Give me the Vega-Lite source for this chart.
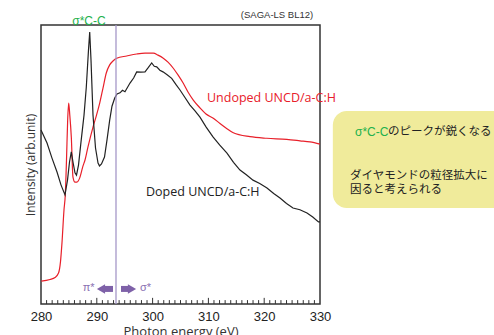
{
  "$schema": "https://vega.github.io/schema/vega-lite/v6.json",
  "width": 279,
  "height": 279,
  "autosize": {"type": "none"},
  "padding": {"left": 41, "top": 25, "right": 174, "bottom": 31},
  "background": "white",
  "config": {"view": {"stroke": "#333", "strokeWidth": 1.5}, "font": "Liberation Sans"},
  "datasets": {
    "doped": [
      {"energy": 280.00, "intensity": 62.4}, {"energy": 281.08, "intensity": 57.7}, {"energy": 281.97, "intensity": 52.3},
      {"energy": 282.87, "intensity": 47.3}, {"energy": 283.58, "intensity": 42.7}, {"energy": 284.30, "intensity": 39.1},
      {"energy": 284.75, "intensity": 44.4}, {"energy": 285.11, "intensity": 50.9}, {"energy": 285.43, "intensity": 54.5},
      {"energy": 285.73, "intensity": 50.9}, {"energy": 286.09, "intensity": 47.0}, {"energy": 286.36, "intensity": 46.2},
      {"energy": 286.72, "intensity": 49.8}, {"energy": 287.17, "intensity": 58.1}, {"energy": 287.71, "intensity": 67.7},
      {"energy": 288.12, "intensity": 77.8}, {"energy": 288.51, "intensity": 91.0}, {"energy": 288.73, "intensity": 97.5},
      {"energy": 288.96, "intensity": 87.5}, {"energy": 289.32, "intensity": 67.7}, {"energy": 289.77, "intensity": 55.9},
      {"energy": 290.22, "intensity": 50.5}, {"energy": 290.48, "intensity": 49.5}, {"energy": 290.84, "intensity": 50.2},
      {"energy": 291.38, "intensity": 52.7}, {"energy": 291.83, "intensity": 58.8}, {"energy": 292.31, "intensity": 65.9},
      {"energy": 292.72, "intensity": 70.9}, {"energy": 293.21, "intensity": 73.8}, {"energy": 293.62, "intensity": 75.3},
      {"energy": 294.16, "intensity": 75.7}, {"energy": 294.60, "intensity": 76.6}, {"energy": 295.05, "intensity": 76.1},
      {"energy": 295.95, "intensity": 79.2}, {"energy": 296.60, "intensity": 81.0}, {"energy": 297.15, "intensity": 83.2},
      {"energy": 297.90, "intensity": 83.1}, {"energy": 298.64, "intensity": 83.2}, {"energy": 299.18, "intensity": 84.6},
      {"energy": 299.84, "intensity": 86.4}, {"energy": 300.30, "intensity": 85.2}, {"energy": 300.74, "intensity": 85.0},
      {"energy": 301.30, "intensity": 83.8}, {"energy": 301.86, "intensity": 83.2}, {"energy": 302.60, "intensity": 82.2},
      {"energy": 303.42, "intensity": 80.9}, {"energy": 304.20, "intensity": 78.6}, {"energy": 304.91, "intensity": 76.7},
      {"energy": 305.80, "intensity": 74.0}, {"energy": 306.70, "intensity": 71.3}, {"energy": 307.60, "intensity": 69.2},
      {"energy": 308.49, "intensity": 67.0}, {"energy": 309.60, "intensity": 63.4}, {"energy": 310.82, "intensity": 59.9},
      {"energy": 312.00, "intensity": 57.0}, {"energy": 313.33, "intensity": 54.1}, {"energy": 314.50, "intensity": 50.8},
      {"energy": 315.66, "intensity": 48.0}, {"energy": 316.80, "intensity": 46.3}, {"energy": 317.99, "intensity": 44.4},
      {"energy": 319.20, "intensity": 43.2}, {"energy": 320.50, "intensity": 41.6}, {"energy": 321.70, "intensity": 39.6},
      {"energy": 322.83, "intensity": 38.0}, {"energy": 324.00, "intensity": 36.0}, {"energy": 325.16, "intensity": 34.4},
      {"energy": 326.40, "intensity": 33.8}, {"energy": 327.67, "intensity": 32.6}, {"energy": 328.70, "intensity": 31.2},
      {"energy": 329.73, "intensity": 29.4}, {"energy": 330.00, "intensity": 29.4}
    ],
    "undoped": [
      {"energy": 280.05, "intensity": 8.2}, {"energy": 281.61, "intensity": 8.8}, {"energy": 282.51, "intensity": 9.5},
      {"energy": 283.14, "intensity": 11.1}, {"energy": 283.49, "intensity": 15.1}, {"energy": 283.76, "intensity": 21.9},
      {"energy": 284.12, "intensity": 33.7}, {"energy": 284.35, "intensity": 39.1}, {"energy": 284.57, "intensity": 51.6},
      {"energy": 284.78, "intensity": 65.9}, {"energy": 284.96, "intensity": 72.0}, {"energy": 285.16, "intensity": 67.7},
      {"energy": 285.43, "intensity": 59.9}, {"energy": 285.73, "intensity": 45.5}, {"energy": 286.09, "intensity": 43.7},
      {"energy": 286.45, "intensity": 43.7}, {"energy": 286.94, "intensity": 45.2}, {"energy": 287.53, "intensity": 49.5},
      {"energy": 287.89, "intensity": 51.6}, {"energy": 288.42, "intensity": 56.3}, {"energy": 289.32, "intensity": 63.4},
      {"energy": 289.95, "intensity": 67.7}, {"energy": 290.52, "intensity": 72.0}, {"energy": 291.11, "intensity": 77.4},
      {"energy": 291.70, "intensity": 82.8}, {"energy": 292.31, "intensity": 85.7}, {"energy": 292.90, "intensity": 87.1},
      {"energy": 293.57, "intensity": 88.1}, {"energy": 295.36, "intensity": 88.9}, {"energy": 297.15, "intensity": 89.6},
      {"energy": 298.64, "intensity": 89.9}, {"energy": 300.13, "intensity": 89.9}, {"energy": 300.97, "intensity": 89.2},
      {"energy": 301.92, "intensity": 88.1}, {"energy": 302.76, "intensity": 86.7}, {"energy": 303.71, "intensity": 84.5},
      {"energy": 304.55, "intensity": 82.1}, {"energy": 305.50, "intensity": 79.1}, {"energy": 306.34, "intensity": 76.0},
      {"energy": 307.29, "intensity": 73.1}, {"energy": 308.49, "intensity": 70.3}, {"energy": 309.57, "intensity": 68.1},
      {"energy": 310.88, "intensity": 66.6}, {"energy": 312.08, "intensity": 64.7}, {"energy": 313.15, "intensity": 63.1},
      {"energy": 314.46, "intensity": 61.4}, {"energy": 317.46, "intensity": 60.0}, {"energy": 320.45, "intensity": 59.4},
      {"energy": 324.03, "intensity": 59.0}, {"energy": 326.42, "intensity": 58.5}, {"energy": 328.21, "intensity": 58.1},
      {"energy": 330.00, "intensity": 57.3}
    ],
    "minorTicks": [
      {"energy": 281}, {"energy": 282}, {"energy": 283}, {"energy": 284}, {"energy": 285}, {"energy": 286}, {"energy": 287}, {"energy": 288}, {"energy": 289},
      {"energy": 291}, {"energy": 292}, {"energy": 293}, {"energy": 294}, {"energy": 295}, {"energy": 296}, {"energy": 297}, {"energy": 298}, {"energy": 299},
      {"energy": 301}, {"energy": 302}, {"energy": 303}, {"energy": 304}, {"energy": 305}, {"energy": 306}, {"energy": 307}, {"energy": 308}, {"energy": 309},
      {"energy": 311}, {"energy": 312}, {"energy": 313}, {"energy": 314}, {"energy": 315}, {"energy": 316}, {"energy": 317}, {"energy": 318}, {"energy": 319},
      {"energy": 321}, {"energy": 322}, {"energy": 323}, {"energy": 324}, {"energy": 325}, {"energy": 326}, {"energy": 327}, {"energy": 328}, {"energy": 329}
    ],
    "majorTicks": [{"energy": 290}, {"energy": 300}, {"energy": 310}, {"energy": 320}]
  },
  "layer": [
    {
      "data": {"values": [{"energy": 332.3, "energy2": 368, "intensity": 34.4, "intensity2": 69.2}]},
      "mark": {"type": "rect", "color": "#f0eb9b", "cornerRadius": 14, "clip": false},
      "encoding": {
        "x": {"field": "energy", "type": "quantitative", "scale": {"domain": [280, 330], "nice": false, "zero": false},
          "title": "Photon energy (eV)",
          "axis": {
            "values": [280, 290, 300, 310, 320, 330],
            "ticks": false, "domain": false, "grid": false,
            "labelFont": "Liberation Sans", "labelFontSize": 13, "labelColor": "#222",
            "labelFlush": false, "labelOverlap": false, "labelPadding": 6,
            "titleFont": "Open Sans", "titleFontSize": 13, "titleFontWeight": "normal", "titleColor": "#333", "titlePadding": 2
          }},
        "x2": {"field": "energy2"},
        "y": {"field": "intensity", "type": "quantitative", "scale": {"domain": [0, 100], "nice": false, "zero": false},
          "title": "Intensity (arb.unit)",
          "axis": {"labels": false, "ticks": false, "domain": false, "grid": false,
            "titleFont": "Open Sans", "titleFontSize": 12, "titleFontWeight": "normal", "titleColor": "#333", "titlePadding": 4}},
        "y2": {"field": "intensity2"}
      }
    },
    {
      "data": {"name": "minorTicks"},
      "mark": {"type": "rule", "color": "#333", "strokeWidth": 1},
      "encoding": {"x": {"field": "energy", "type": "quantitative"}, "y": {"datum": 0}, "y2": {"datum": 1.4}}
    },
    {
      "data": {"name": "majorTicks"},
      "mark": {"type": "rule", "color": "#333", "strokeWidth": 1},
      "encoding": {"x": {"field": "energy", "type": "quantitative"}, "y": {"datum": 0}, "y2": {"datum": 2.2}}
    },
    {
      "data": {"name": "undoped"},
      "mark": {"type": "line", "color": "#e8202a", "strokeWidth": 1.2, "interpolate": "monotone"},
      "encoding": {
        "x": {"field": "energy", "type": "quantitative"},
        "y": {"field": "intensity", "type": "quantitative"}
      }
    },
    {
      "data": {"name": "doped"},
      "mark": {"type": "line", "color": "#222222", "strokeWidth": 1.2},
      "encoding": {
        "x": {"field": "energy", "type": "quantitative"},
        "y": {"field": "intensity", "type": "quantitative"}
      }
    },
    {
      "data": {"values": [{"energy": 293.44}]},
      "mark": {"type": "rule", "color": "#a597c8", "strokeWidth": 1.3},
      "encoding": {"x": {"field": "energy", "type": "quantitative"}}
    },
    {
      "data": {"values": [{"energy": 291.29, "energy2": 292.90, "intensity": 5.4}, {"energy": 294.34, "energy2": 295.77, "intensity": 5.4}]},
      "mark": {"type": "rule", "color": "#7e61a8", "strokeWidth": 6},
      "encoding": {"x": {"field": "energy", "type": "quantitative"}, "x2": {"field": "energy2"}, "y": {"field": "intensity", "type": "quantitative"}}
    },
    {
      "data": {"values": [{"energy": 290.75, "intensity": 5.4}]},
      "mark": {"type": "point", "shape": "triangle-left", "filled": true, "color": "#7e61a8", "size": 90, "opacity": 1},
      "encoding": {"x": {"field": "energy", "type": "quantitative"}, "y": {"field": "intensity", "type": "quantitative"}}
    },
    {
      "data": {"values": [{"energy": 296.31, "intensity": 5.4}]},
      "mark": {"type": "point", "shape": "triangle-right", "filled": true, "color": "#7e61a8", "size": 90, "opacity": 1},
      "encoding": {"x": {"field": "energy", "type": "quantitative"}, "y": {"field": "intensity", "type": "quantitative"}}
    },
    {
      "data": {"values": [{"energy": 289.6, "intensity": 5.8, "label": "π*"}]},
      "mark": {"type": "text", "align": "right", "baseline": "middle", "font": "Liberation Sans", "fontSize": 11, "color": "#8a70b2"},
      "encoding": {"x": {"field": "energy", "type": "quantitative"}, "y": {"field": "intensity", "type": "quantitative"}, "text": {"field": "label"}}
    },
    {
      "data": {"values": [{"energy": 297.74, "intensity": 5.8, "label": "σ*"}]},
      "mark": {"type": "text", "align": "left", "baseline": "middle", "font": "Liberation Sans", "fontSize": 11, "color": "#8a70b2"},
      "encoding": {"x": {"field": "energy", "type": "quantitative"}, "y": {"field": "intensity", "type": "quantitative"}, "text": {"field": "label"}}
    },
    {
      "data": {"values": [{"energy": 288.6, "intensity": 101.5, "label": "σ*C-C"}]},
      "mark": {"type": "text", "align": "center", "baseline": "middle", "font": "Liberation Sans", "fontSize": 12, "color": "#22b14c"},
      "encoding": {"x": {"field": "energy", "type": "quantitative"}, "y": {"field": "intensity", "type": "quantitative"}, "text": {"field": "label"}}
    },
    {
      "data": {"values": [{"energy": 322.3, "intensity": 103.6, "label": "(SAGA-LS BL12)"}]},
      "mark": {"type": "text", "align": "center", "baseline": "middle", "font": "Liberation Sans", "fontSize": 9.5, "color": "#333"},
      "encoding": {"x": {"field": "energy", "type": "quantitative"}, "y": {"field": "intensity", "type": "quantitative"}, "text": {"field": "label"}}
    },
    {
      "data": {"values": [{"energy": 309.75, "intensity": 73.8, "label": "Undoped UNCD/a-C:H"}]},
      "mark": {"type": "text", "align": "left", "baseline": "middle", "font": "Open Sans", "fontSize": 12.5, "color": "#e8202a"},
      "encoding": {"x": {"field": "energy", "type": "quantitative"}, "y": {"field": "intensity", "type": "quantitative"}, "text": {"field": "label"}}
    },
    {
      "data": {"values": [{"energy": 298.82, "intensity": 40.1, "label": "Doped UNCD/a-C:H"}]},
      "mark": {"type": "text", "align": "left", "baseline": "middle", "font": "Open Sans", "fontSize": 12.5, "color": "#222"},
      "encoding": {"x": {"field": "energy", "type": "quantitative"}, "y": {"field": "intensity", "type": "quantitative"}, "text": {"field": "label"}}
    },
    {
      "data": {"values": [{"energy": 336.27, "intensity": 61.6, "label": "σ*C-C"}]},
      "mark": {"type": "text", "align": "left", "baseline": "middle", "font": "Liberation Sans", "fontSize": 12, "color": "#22b14c"},
      "encoding": {"x": {"field": "energy", "type": "quantitative"}, "y": {"field": "intensity", "type": "quantitative"}, "text": {"field": "label"}}
    },
    {
      "data": {"values": [{"energy": 342.19, "intensity": 61.6, "label": "のピークが鋭くなる"}]},
      "mark": {"type": "text", "align": "left", "baseline": "middle", "font": "Noto Sans CJK JP", "fontSize": 11.5, "color": "#222"},
      "encoding": {"x": {"field": "energy", "type": "quantitative"}, "y": {"field": "intensity", "type": "quantitative"}, "text": {"field": "label"}}
    },
    {
      "data": {"values": [{"energy": 335.38, "intensity": 45.9, "label": "ダイヤモンドの粒径拡大に"}, {"energy": 335.38, "intensity": 40.9, "label": "因ると考えられる"}]},
      "mark": {"type": "text", "align": "left", "baseline": "middle", "font": "Noto Sans CJK JP", "fontSize": 11.5, "color": "#222"},
      "encoding": {"x": {"field": "energy", "type": "quantitative"}, "y": {"field": "intensity", "type": "quantitative"}, "text": {"field": "label"}}
    }
  ]
}
